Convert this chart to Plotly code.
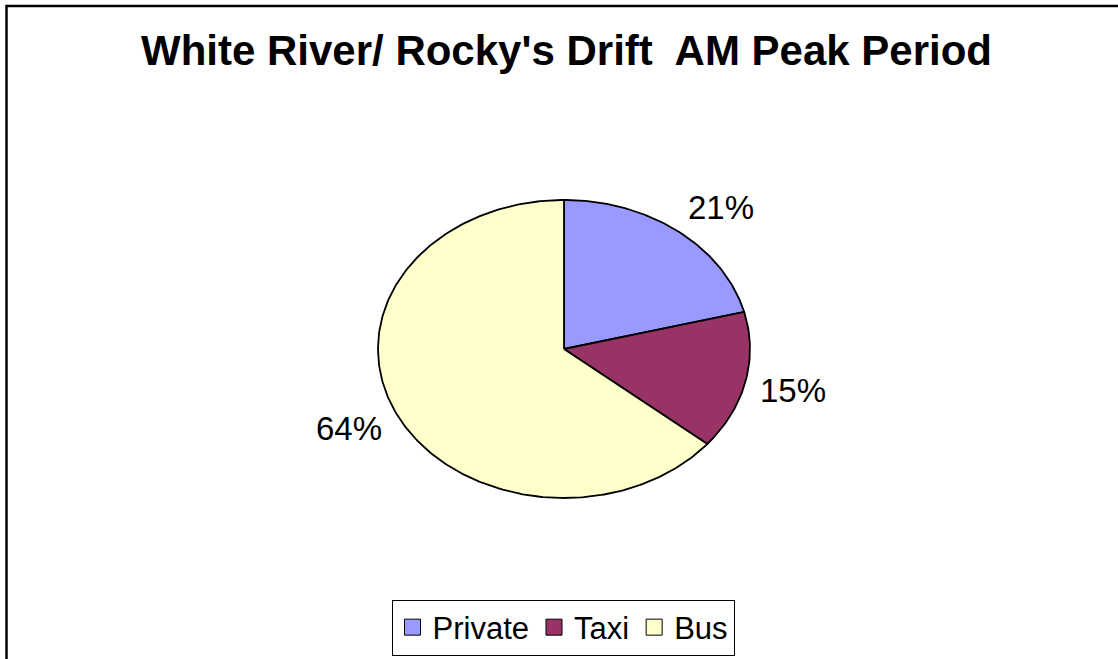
import numpy as np
import plotly.graph_objects as go

# ---- data ----
categories = ["Private", "Taxi", "Bus"]
shares = [21, 15, 64]          # percent
colors = ["#9999FF", "#993366", "#FFFFCC"]
title_text = "White River/ Rocky's Drift  AM Peak Period"

# ---- layout geometry (pixel space) ----
W, H = 1118, 659
cx, cy = 564, 349      # pie centre
rx, ry = 186, 149      # elliptical radii (stretched pie)

fig = go.Figure()

total = float(sum(shares))
start = 0.0
label_x, label_y, label_t = [], [], []
for cat, val, col in zip(categories, shares, colors):
    frac = val / total
    a0, a1 = start * 2 * np.pi, (start + frac) * 2 * np.pi
    th = np.linspace(a0, a1, max(int(frac * 400), 8))
    xs = np.concatenate([[cx], cx + rx * np.sin(th), [cx]])
    ys = np.concatenate([[cy], cy - ry * np.cos(th), [cy]])
    fig.add_trace(go.Scatter(
        x=xs, y=ys, mode="lines", fill="toself", fillcolor=col,
        line=dict(color="black", width=1.8), showlegend=False,
        hoverinfo="skip"))
    # outside label
    mid = (a0 + a1) / 2
    s, c = np.sin(mid), np.cos(mid)
    ex, ey = cx + rx * s, cy - ry * c
    label_x.append(ex + 12 * s + 36 * np.sign(s))
    label_y.append(ey + 2 - 32 * c)
    label_t.append(f"{val:.0f}%")
    start += frac

for x, y, t in zip(label_x, label_y, label_t):
    fig.add_annotation(x=x, y=y, text=t, showarrow=False,
                       xanchor="center", yanchor="middle",
                       font=dict(family="Liberation Sans, Arial", size=33, color="black"))

# legend entries
for cat, col in zip(categories, colors):
    fig.add_trace(go.Scatter(
        x=[None], y=[None], mode="markers", name=cat,
        marker=dict(symbol="square", size=17, color=col,
                    line=dict(color="black", width=1))))

# title
fig.add_annotation(x=566, y=50, text="<b>" + title_text + "</b>", showarrow=False,
                   xanchor="center", yanchor="middle",
                   font=dict(family="Liberation Sans, Arial", size=42, color="black"))

# outer chart border (extends past right/bottom of the page)
fig.add_shape(type="rect", x0=6.5, y0=6, x1=W + 20, y1=H + 20,
              line=dict(color="black", width=2.5), layer="above")

fig.update_layout(
    width=W, height=H,
    margin=dict(l=0, r=0, t=0, b=0, autoexpand=False),
    paper_bgcolor="white", plot_bgcolor="white",
    xaxis=dict(range=[0, W], visible=False, fixedrange=True),
    yaxis=dict(range=[H, 0], visible=False, fixedrange=True),
    showlegend=True,
    legend=dict(orientation="h", x=0.5036, xanchor="center",
                y=3.5 / H, yanchor="bottom",
                bordercolor="black", borderwidth=1, bgcolor="white",
                font=dict(family="Liberation Sans, Arial", size=31, color="black"),
                itemsizing="trace"),
    font=dict(family="Liberation Sans, Arial"),
)

fig.write_html("out.html")
